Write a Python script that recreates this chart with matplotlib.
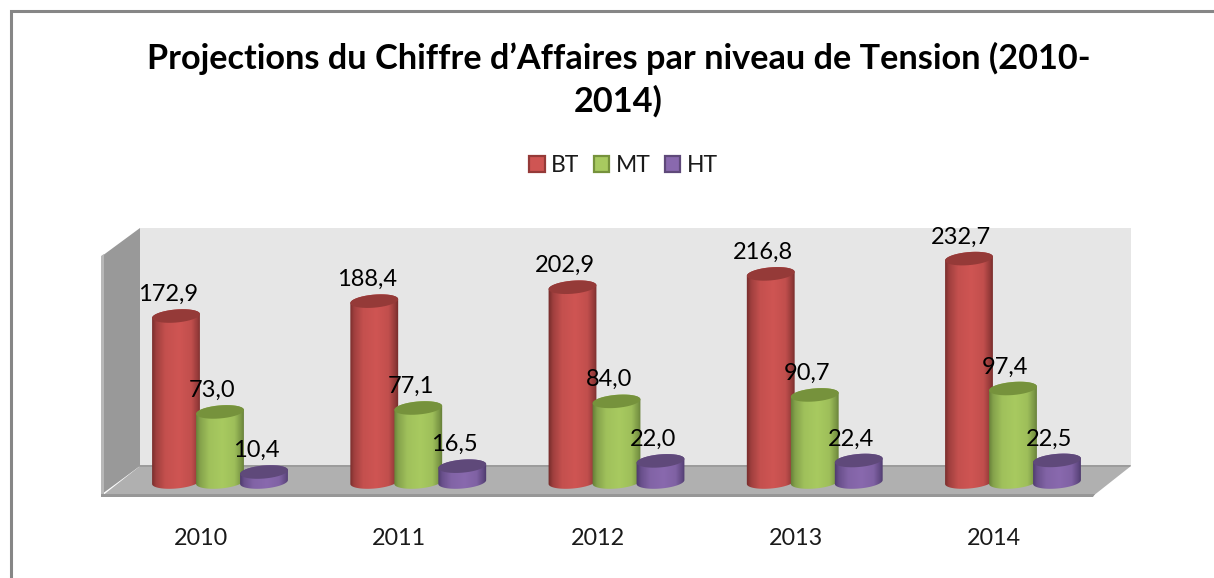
import numpy as np
import matplotlib
matplotlib.use('Agg')
import matplotlib.pyplot as plt
from matplotlib.colors import LinearSegmentedColormap, to_rgb
from matplotlib.lines import Line2D
from matplotlib.patches import Patch, PathPatch, Polygon
from matplotlib.path import Path

years = ['2010', '2011', '2012', '2013', '2014']
series_names = ['BT', 'MT', 'HT']
bt_values = [172.9, 188.4, 202.9, 216.8, 232.7]
mt_values = [73.0, 77.1, 84.0, 90.7, 97.4]
ht_values = [10.4, 16.5, 22.0, 22.4, 22.5]

W, H = 1214, 578
PX_X0, PX_PER_CAT = 220.0, 198.25   # centre of the first group, group spacing
PX_Y0, PX_PER_UNIT = 482.0, 0.96    # value 0, pixels per value unit
AX_L, AX_R, AX_T, AX_B = 102, 1131, 228, 497

plt.rcParams['font.family'] = ['Lato', 'DejaVu Sans']


def px(x, y):
    """pixel de l'image -> coordonnees des axes"""
    return (x - PX_X0) / PX_PER_CAT, (PX_Y0 - y) / PX_PER_UNIT


def ellipse_pts(cx, value, start, end, n=40, a=24.0, b=6.5, tilt=np.radians(5)):
    t = np.linspace(start, end, n)
    dx = a * np.cos(t) * np.cos(tilt) - b * np.sin(t) * np.sin(tilt)
    dy = a * np.cos(t) * np.sin(tilt) + b * np.sin(t) * np.cos(tilt)
    return np.column_stack([cx + dx / PX_PER_CAT, value + dy / PX_PER_UNIT])


def blend(c1, c2, k):
    return tuple((1 - k) * a + k * b for a, b in zip(to_rgb(c1), to_rgb(c2)))


def draw_cylinder(ax, cx, value, edge, mid, top, z):
    # corps : moitie basse de la base + haut, rempli d'un degrade horizontal
    low = ellipse_pts(cx, 0, np.pi, 2 * np.pi)
    up = ellipse_pts(cx, value, 0, np.pi)
    body = np.vstack([low, up, low[:1]])
    clip = PathPatch(Path(body), transform=ax.transData, fc='none', ec='none')
    ax.add_patch(clip)
    cmap = LinearSegmentedColormap.from_list('cyl', [
        (0, edge), (0.1, blend(edge, mid, 0.5)), (0.28, blend(edge, mid, 0.88)),
        (0.55, mid), (0.8, blend(edge, mid, 0.85)), (0.93, blend(edge, mid, 0.35)), (1, edge)])
    half = 25 / PX_PER_CAT
    im = ax.imshow(np.linspace(0, 1, 64).reshape(1, -1), cmap=cmap, aspect='auto',
                   extent=(cx - half, cx + half, -10, value + 10),
                   interpolation='bilinear', zorder=z)
    im.set_clip_path(clip)
    ax.add_patch(Polygon(ellipse_pts(cx, value, 0, 2 * np.pi), closed=True,
                         fc=top, ec='none', zorder=z + 0.1))


fig = plt.figure(figsize=(W / 100, H / 100), dpi=100, facecolor='white')
ax = fig.add_axes([AX_L / W, 1 - AX_B / H, (AX_R - AX_L) / W, (AX_B - AX_T) / H])
ax.patch.set_visible(False)
for s in ax.spines.values():
    s.set_visible(False)

# parois du graphique 3D
walls = [
    ([(140, 228), (1131, 228), (1131, 466), (140, 466)], '#e6e6e6'),
    ([(102, 256), (140, 228), (140, 466), (102, 494)], '#999999'),
    ([(101, 256), (104, 254), (104, 494), (101, 497)], '#b8b8b8'),
    ([(102, 496), (140, 466), (1131, 466), (1093, 496)], '#b0b0b0'),
    ([(140, 465), (1131, 465), (1130, 467), (139, 467)], '#9c9c9c'),
    ([(101, 494), (1095, 494), (1093, 497), (101, 497)], '#979797'),
]
for pts, col in walls:
    ax.add_patch(Polygon([px(*p) for p in pts], closed=True, fc=col, ec='none',
                         zorder=1, clip_on=False))

styles = [
    ('#732b2a', '#cf5553', '#953a38'),
    ('#637c37', '#a8ca60', '#76923c'),
    ('#4b386a', '#8969ae', '#5f497a'),
]
all_values = [bt_values, mt_values, ht_values]
positions = np.arange(len(years))
bar_step = 44 / PX_PER_CAT

z = 2
for i in positions:
    for j, vals in enumerate(all_values):
        cx = i + (j - 1) * bar_step
        draw_cylinder(ax, cx, vals[i], *styles[j], z)
        z += 1

for i in positions:
    for j, vals in enumerate(all_values):
        cx = i + (j - 1) * bar_step
        ax.annotate(f'{vals[i]:.1f}'.replace('.', ','), (cx, vals[i]),
                    xytext=(-5.5, 15.5), textcoords='offset points',
                    ha='center', va='center', fontsize=17, color='black', zorder=100)

ax.set_xlim((AX_L - PX_X0) / PX_PER_CAT, (AX_R - PX_X0) / PX_PER_CAT)
ax.set_ylim((PX_Y0 - AX_B) / PX_PER_UNIT, (PX_Y0 - AX_T) / PX_PER_UNIT)
ax.set_yticks([])
ax.set_xticks(positions - 19 / PX_PER_CAT, years)
ax.tick_params(axis='x', length=0, pad=22.5, labelsize=16.8, labelcolor='#1a1a1a')

# titre
fig.text(618.5 / W, 1 - 79.5 / H,
         'Projections du Chiffre d\u2019Affaires par niveau de Tension (2010-\n2014)',
         ha='center', va='center', fontsize=24.7, fontweight='bold',
         linespacing=1.36, color='black')

# legende
handles = [Patch(fc=styles[k][1], ec=styles[k][2], lw=1.6) for k in range(3)]
fig.legend(handles, series_names, loc='center', bbox_to_anchor=(623.5 / W, 1 - 165.5 / H),
           ncol=3, frameon=False, fontsize=16.5, handlelength=0.68, handleheight=0.68,
           handletextpad=0.28, columnspacing=0.62, borderpad=0, labelcolor='#1a1a1a')

# cadre de la zone de graphique
fig.add_artist(Line2D([10.5 / W, 10.5 / W, 1], [0, 1 - 11 / H, 1 - 11 / H],
                      color='#868686', lw=2.2, solid_joinstyle='miter'))

fig.savefig('out.png', dpi=100)
